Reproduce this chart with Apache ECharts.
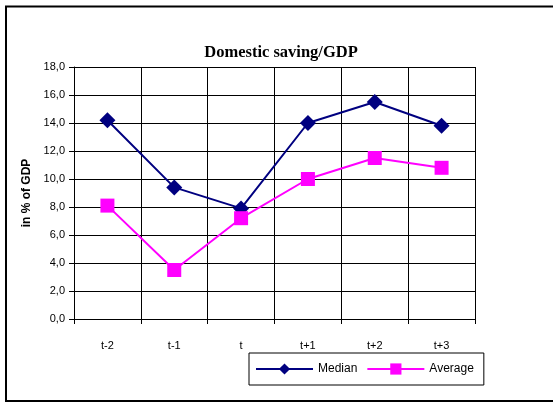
<!DOCTYPE html>
<html>
<head>
<meta charset="utf-8">
<script src="https://cdn.jsdelivr.net/npm/echarts@6/dist/echarts.min.js"></script>
<style>html,body{margin:0;padding:0;background:#fff;}#c{width:553px;height:402px;}</style>
</head>
<body>
<div id="c"></div>
<script>
const categories = ['t-2', 't-1', 't', 't+1', 't+2', 't+3'];
const median = [14.2, 9.4, 7.9, 14.0, 15.5, 13.8];
const average = [8.1, 3.5, 7.2, 10.0, 11.5, 10.8];

const chart = echarts.init(document.getElementById('c'), null, {renderer: 'canvas'});
chart.setOption({
  animation: false,
  backgroundColor: '#fff',
  title: {
    text: 'Domestic saving/GDP',
    left: 276, top: 39, textAlign: 'center',
    textStyle: {fontFamily: 'Liberation Serif', fontWeight: 'bold', fontSize: 16.5, color: '#000'}
  },
  graphic: [{
    type: 'rect', silent: true, z: 100,
    shape: {x: 6, y: 6.5, width: 600, height: 394.5},
    style: {fill: 'none', stroke: '#000', lineWidth: 2}
  }],
  grid: {left: 74, right: 78, top: 67, bottom: 83, containLabel: false},
  legend: {
    data: ['Median', 'Average'],
    left: 249, top: 353,
    padding: [10, 10, 10, 6],
    itemWidth: 57, itemHeight: 14, itemGap: 9,
    borderColor: '#000', borderWidth: 1,
    textStyle: {fontFamily: 'Liberation Sans', fontSize: 12, color: '#000'}
  },
  xAxis: {
    type: 'category', data: categories, boundaryGap: true,
    axisLine: {lineStyle: {color: '#000', width: 1}},
    axisTick: {show: true, length: 5, lineStyle: {color: '#000'}},
    axisLabel: {margin: 21, fontFamily: 'Liberation Sans', fontSize: 11, color: '#000'},
    splitLine: {show: true, lineStyle: {color: '#000', width: 1}}
  },
  yAxis: {
    type: 'value', min: 0, max: 18, interval: 2,
    name: 'in % of GDP', nameLocation: 'middle', nameGap: 27, nameRotate: 90,
    nameTextStyle: {fontFamily: 'Liberation Sans', fontWeight: 'bold', fontSize: 12, color: '#000'},
    axisLine: {show: true, lineStyle: {color: '#000', width: 1}},
    axisTick: {show: true, length: 5, lineStyle: {color: '#000'}},
    axisLabel: {margin: 9, fontFamily: 'Liberation Sans', fontSize: 11, color: '#000',
      formatter: v => v.toFixed(1).replace('.', ',')},
    splitLine: {show: true, lineStyle: {color: '#000', width: 1}}
  },
  series: [{
    name: 'Median', type: 'line', data: median,
    symbol: 'diamond', symbolSize: 16,
    lineStyle: {color: '#000080', width: 2},
    itemStyle: {color: '#000080'}
  }, {
    name: 'Average', type: 'line', data: average,
    symbol: 'rect', symbolSize: 14,
    lineStyle: {color: '#ff00ff', width: 2},
    itemStyle: {color: '#ff00ff'}
  }]
});
</script>
</body>
</html>
